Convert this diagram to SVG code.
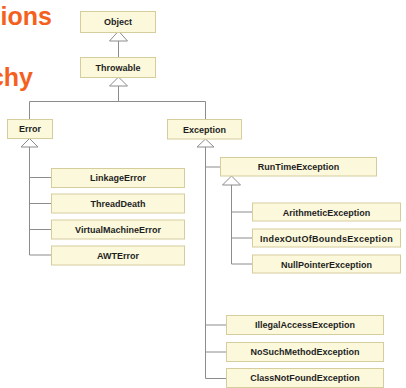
<svg xmlns="http://www.w3.org/2000/svg" width="406" height="388" viewBox="0 0 406 388">
<style>
.title{font-family:"Liberation Sans",Arial,sans-serif;font-weight:bold;font-size:25px;fill:#f4611f}
.box{fill:#fbf8dc;stroke:#d6cd9c;stroke-width:1}
.lbl{font-family:"Liberation Sans",Arial,sans-serif;font-weight:bold;font-size:9px;fill:#1e1e1e;text-anchor:middle}
.ln{fill:none;stroke:#8c8c8c;stroke-width:1}
.tri{fill:#ffffff;stroke:#8c8c8c;stroke-width:1}
</style>
<rect width="406" height="388" fill="#ffffff"/>
<text class="title" x="52" y="25" text-anchor="end">ions</text>
<text class="title" x="33" y="86" text-anchor="end">chy</text>

<g id="connectors">
  <path class="ln" d="M118.5 41 V57"/>
  <path class="ln" d="M118.5 86 V101.5 M29.5 101.5 H205.5 M29.5 101.5 V119 M205.5 101.5 V119"/>
  <path class="ln" d="M29.5 147 V255 M29.5 177.5 H51 M29.5 203.5 H51 M29.5 229.5 H51 M29.5 255 H51"/>
  <path class="ln" d="M205.5 147 V378.5 M205.5 167 H220 M205.5 325 H226 M205.5 352 H226 M205.5 378.5 H226"/>
  <path class="ln" d="M231.5 185 V264 M231.5 212 H252 M231.5 238 H252 M231.5 264 H252"/>
  <polygon class="tri" points="118.5,31 109.5,41 127.5,41"/>
  <polygon class="tri" points="118.5,77 109.5,86 127.5,86"/>
  <polygon class="tri" points="29.5,138.5 21,147 38,147"/>
  <polygon class="tri" points="205.5,139 197,147 214,147"/>
  <polygon class="tri" points="231.5,176 222.5,185 240.5,185"/>
</g>

<g id="Object"><rect class="box" x="80.5" y="11.5" width="75" height="21"/><text class="lbl" x="118" y="25">Object</text></g>
<g id="Throwable"><rect class="box" x="80.5" y="57.5" width="75" height="20"/><text class="lbl" x="118" y="70.5">Throwable</text></g>
<g id="Error"><rect class="box" x="7.5" y="119.5" width="45" height="19"/><text class="lbl" x="30" y="132">Error</text></g>
<g id="Exception"><rect class="box" x="167.5" y="119.5" width="74" height="19.5"/><text class="lbl" x="204.5" y="132.5">Exception</text></g>
<g id="LinkageError"><rect class="box" x="51.5" y="168.5" width="133" height="19"/><text class="lbl" x="118" y="181">LinkageError</text></g>
<g id="ThreadDeath"><rect class="box" x="51.5" y="194" width="133" height="19"/><text class="lbl" x="118" y="206.5">ThreadDeath</text></g>
<g id="VirtualMachineError"><rect class="box" x="51.5" y="220" width="133" height="19"/><text class="lbl" x="118" y="232.5">VirtualMachineError</text></g>
<g id="AWTError"><rect class="box" x="51.5" y="246" width="133" height="19"/><text class="lbl" x="118" y="258.5">AWTError</text></g>
<g id="RunTimeException"><rect class="box" x="220.5" y="157.5" width="156" height="18.5"/><text class="lbl" x="298.5" y="170">RunTimeException</text></g>
<g id="ArithmeticException"><rect class="box" x="252.5" y="203" width="148" height="18"/><text class="lbl" x="326.5" y="215.5">ArithmeticException</text></g>
<g id="IndexOutOfBoundsException"><rect class="box" x="252.5" y="229" width="148" height="18"/><text class="lbl" x="326.5" y="241.5" letter-spacing="0.3">IndexOutOfBoundsException</text></g>
<g id="NullPointerException"><rect class="box" x="252.5" y="255" width="148" height="18"/><text class="lbl" x="326.5" y="267.5">NullPointerException</text></g>
<g id="IllegalAccessException"><rect class="box" x="226.5" y="315.5" width="157" height="19"/><text class="lbl" x="305" y="328">IllegalAccessException</text></g>
<g id="NoSuchMethodException"><rect class="box" x="226.5" y="342.5" width="157" height="19"/><text class="lbl" x="305" y="355">NoSuchMethodException</text></g>
<g id="ClassNotFoundException"><rect class="box" x="226.5" y="368.5" width="157" height="19"/><text class="lbl" x="305" y="381">ClassNotFoundException</text></g>
</svg>
